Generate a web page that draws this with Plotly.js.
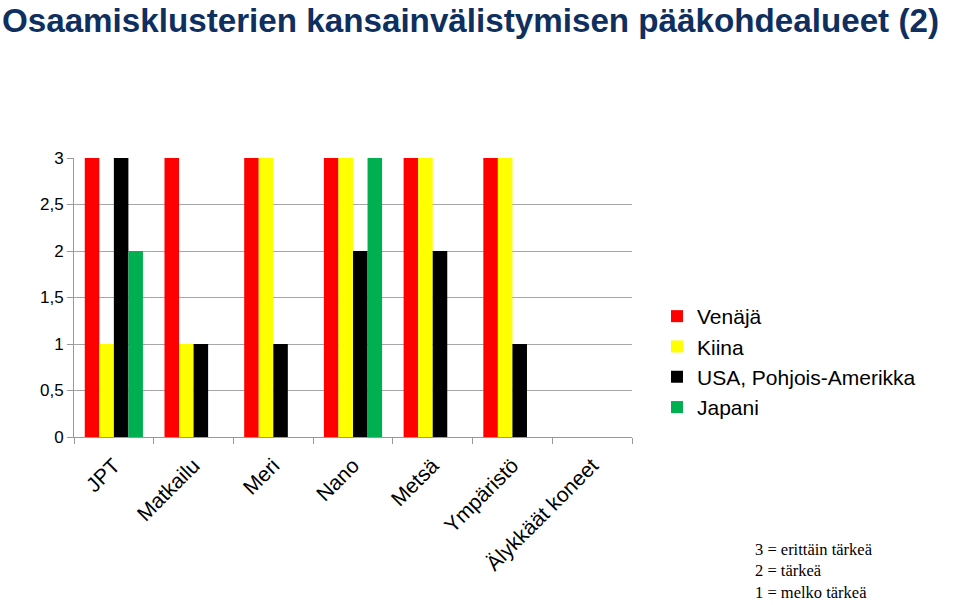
<!DOCTYPE html>
<html><head><meta charset="utf-8">
<script src="https://cdn.plot.ly/plotly-3.0.1.min.js"></script>
<style>html,body{margin:0;padding:0;background:#fff}#c{width:960px;height:605px}</style>
</head><body><div id="c"></div>
<script>
const categories = ["JPT","Matkailu","Meri","Nano","Metsä","Ympäristö","Älykkäät koneet"];
const venaja = [3,3,3,3,3,3,0];
const kiina  = [1,1,3,3,3,3,0];
const usa    = [3,1,1,2,2,1,0];
const japani = [2,0,0,3,0,0,0];
const seriesNames = ["Venäjä","Kiina","USA, Pohjois-Amerikka","Japani"];
const yTickVals = [0,0.5,1,1.5,2,2.5,3];
const yTickText = ["0","0,5","1","1,5","2","2,5","3"];
const noteLines = ["3 = erittäin tärkeä","2 = tärkeä","1 = melko tärkeä"];

const colors = ["#FF0000","#FFFF00","#000000","#00B050"];
const data = [venaja,kiina,usa,japani].map((v,i)=>({
  type:"bar", x:categories, y:v, name:seriesNames[i],
  marker:{color:colors[i], line:{width:0}},
  hoverinfo:"x+y+name"
}));

const layout = {
  width:960, height:605,
  margin:{l:0,r:0,t:0,b:0},
  paper_bgcolor:"#fff", plot_bgcolor:"#fff",
  font:{family:"Liberation Sans, Arial, sans-serif", color:"#000"},
  title:{text:"<b>Osaamisklusterien kansainvälistymisen pääkohdealueet (2)</b>",
    x:0.002, xanchor:"left", xref:"paper", yref:"container", y:0.985, yanchor:"top",
    font:{size:33.2, color:"#0F2F5F", family:"Liberation Sans, Arial, sans-serif"}},
  barmode:"group", bargap:0.27, bargroupgap:0,
  xaxis:{domain:[74/960, 632/960], tickangle:-45, tickson:"boundaries",
    ticks:"outside", ticklen:6, tickcolor:"#999", showline:true, linecolor:"#999", linewidth:1,
    tickfont:{size:21}, ticklabelstandoff:7, showgrid:false, fixedrange:true},
  yaxis:{domain:[(605-437)/605, (605-158)/605], range:[0,3], tickvals:yTickVals, ticktext:yTickText,
    ticks:"outside", ticklen:6, tickcolor:"#999", showline:true, linecolor:"#999", linewidth:1,
    gridcolor:"#A6A6A6", gridwidth:1, tickfont:{size:17}, zeroline:false, fixedrange:true},
  legend:{x:657/960, y:(605-296)/605, xanchor:"left", yanchor:"top",
    font:{size:21}, tracegroupgap:0, itemwidth:30, bgcolor:"rgba(0,0,0,0)"},
  annotations:[{xref:"paper", yref:"paper", x:753/960, y:1/605, xanchor:"left", yanchor:"bottom",
    align:"left", showarrow:false, text:noteLines.join("<br>"),
    font:{family:"Liberation Serif, Times New Roman, serif", size:16.5, color:"#000"}}]
};
Plotly.newPlot("c", data, layout, {displayModeBar:false, staticPlot:true});
</script></body></html>
